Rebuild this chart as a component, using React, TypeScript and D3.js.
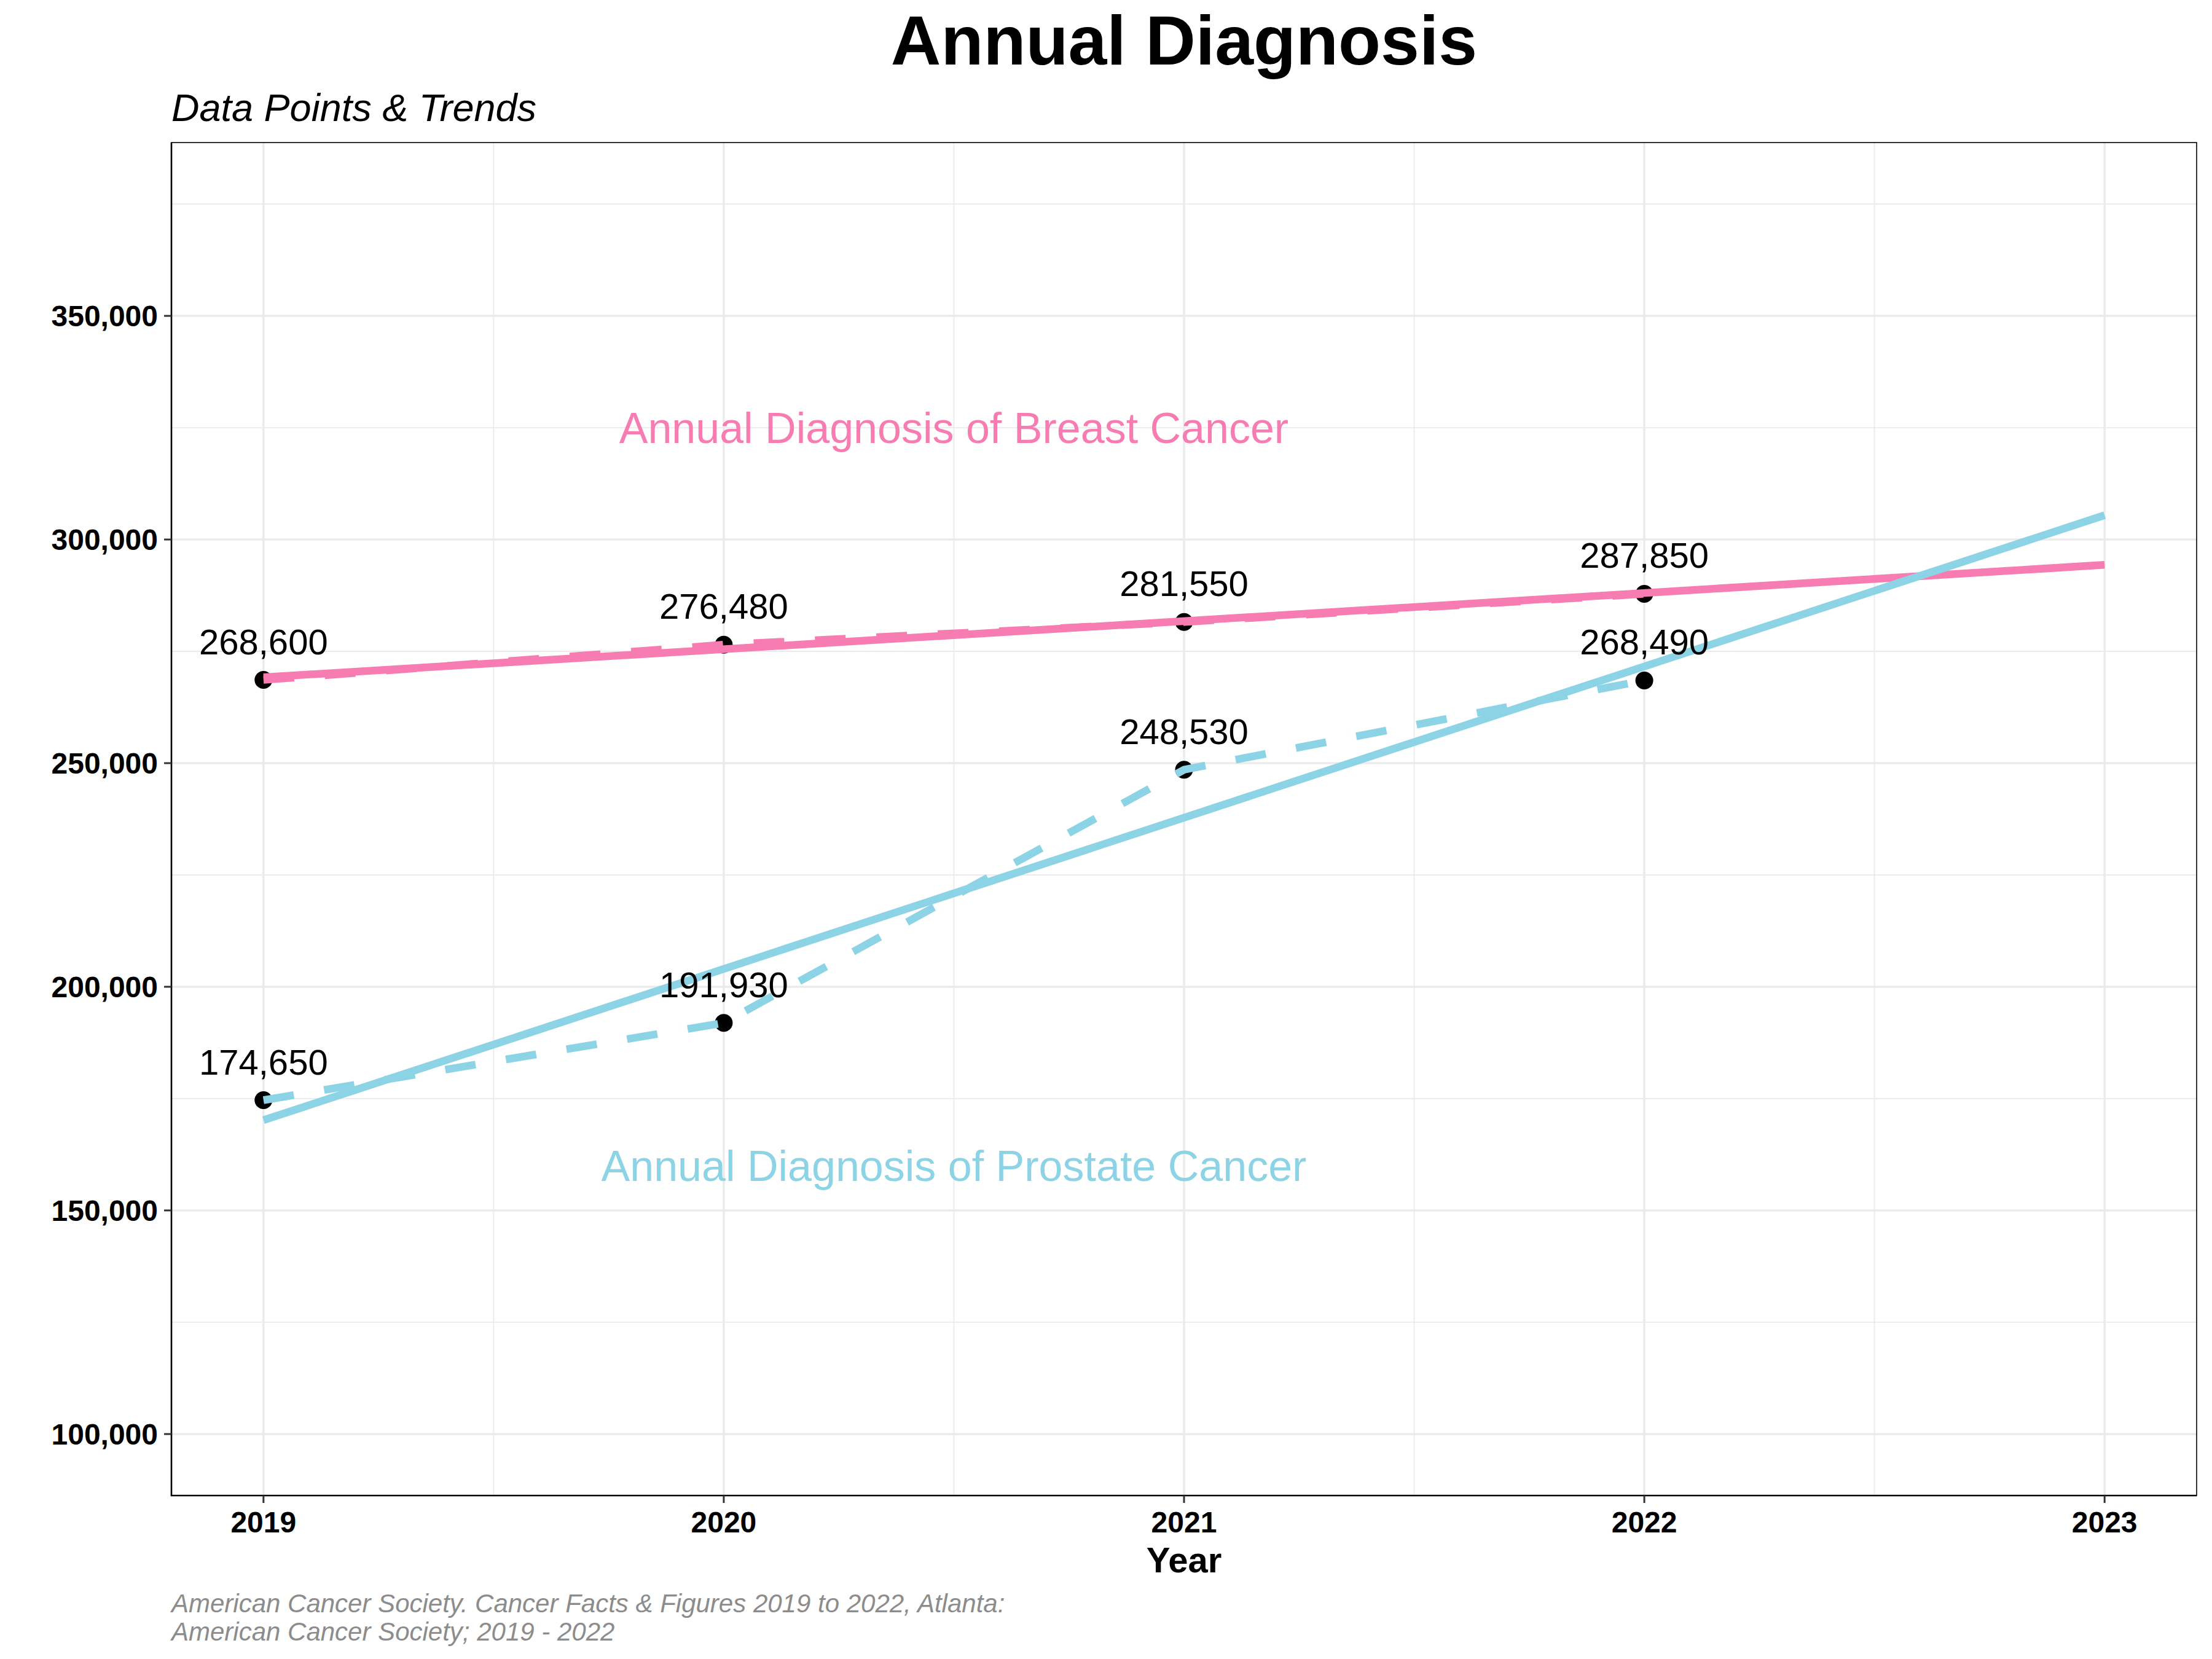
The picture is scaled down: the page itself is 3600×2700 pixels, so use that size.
import React from "react";
import * as d3 from "d3";

const years = [2019, 2020, 2021, 2022];
const breastValues = [268600, 276480, 281550, 287850];
const prostateValues = [174650, 191930, 248530, 268490];
const xTicks = [2019, 2020, 2021, 2022, 2023];
const xMinor = [2019.5, 2020.5, 2021.5, 2022.5];
const yTicks = [100000, 150000, 200000, 250000, 300000, 350000];
const yMinor = [125000, 175000, 225000, 275000, 325000, 375000];
const trendRange = [2019, 2023];
const seriesNames = ["Annual Diagnosis of Breast Cancer", "Annual Diagnosis of Prostate Cancer"];
const annotationX = [2020.5, 2020.5];
const annotationY = [325000, 160000];
const captionLines = [
  "American Cancer Society. Cancer Facts & Figures 2019 to 2022, Atlanta:",
  "American Cancer Society; 2019 - 2022",
];

const W = 3600;
const H = 2700;
const PL = 279, PR = 3575, PT = 232, PB = 2434;
const PINK = "#F67CB1";
const BLUE = "#8DD3E6";
const FONT = "'Liberation Sans', Arial, Helvetica, sans-serif";

function fit(xs: number[], ys: number[]) {
  const mx = d3.mean(xs) as number;
  const my = d3.mean(ys) as number;
  let sxy = 0, sxx = 0;
  xs.forEach((x, i) => {
    sxy += (x - mx) * (ys[i] - my);
    sxx += (x - mx) * (x - mx);
  });
  const b = sxy / sxx;
  const a = my - b * mx;
  return (x: number) => a + b * x;
}

export default function App() {
  const x = d3.scaleLinear().domain([2018.8, 2023.2]).range([PL, PR]);
  const y = d3.scaleLinear().domain([86250, 388750]).range([PB, PT]);
  const fmt = d3.format(",");
  const line = d3
    .line<[number, number]>()
    .x((d) => x(d[0]))
    .y((d) => y(d[1]));

  const series = [
    { name: seriesNames[0], values: breastValues, color: PINK, ax: annotationX[0], ay: annotationY[0] },
    { name: seriesNames[1], values: prostateValues, color: BLUE, ax: annotationX[1], ay: annotationY[1] },
  ];
  const panelCx = (PL + PR) / 2;
  const lw = 12.5;

  return (
    <svg
      width={W}
      height={H}
      style={{ position: "absolute", left: 0, top: 0, background: "#fff" }}
      fontFamily={FONT}
    >
      <rect x={0} y={0} width={W} height={H} fill="#fff" />
      {/* grid */}
      {yMinor.map((v) => (
        <line key={"ym" + v} x1={PL} x2={PR} y1={y(v)} y2={y(v)} stroke="#EBEBEB" strokeWidth={1.8} />
      ))}
      {xMinor.map((v) => (
        <line key={"xm" + v} x1={x(v)} x2={x(v)} y1={PT} y2={PB} stroke="#EBEBEB" strokeWidth={1.8} />
      ))}
      {yTicks.map((v) => (
        <line key={"yM" + v} x1={PL} x2={PR} y1={y(v)} y2={y(v)} stroke="#EBEBEB" strokeWidth={3.5} />
      ))}
      {xTicks.map((v) => (
        <line key={"xM" + v} x1={x(v)} x2={x(v)} y1={PT} y2={PB} stroke="#EBEBEB" strokeWidth={3.5} />
      ))}
      {/* panel border */}
      <rect x={PL} y={PT} width={PR - PL} height={PB - PT} fill="none" stroke="#000" strokeWidth={1.6} />
      <line x1={PL} x2={PL} y1={PT} y2={PB + 1} stroke="#000" strokeWidth={2.6} />
      <line x1={PL - 1} x2={PR} y1={PB} y2={PB} stroke="#000" strokeWidth={2.6} />

      {/* ticks */}
      {yTicks.map((v) => (
        <g key={"yt" + v}>
          <line x1={PL - 12} x2={PL} y1={y(v)} y2={y(v)} stroke="#333" strokeWidth={3} />
          <text x={257} y={y(v) + 17} textAnchor="end" fontWeight="bold" fontSize={48} fill="#000">
            {fmt(v)}
          </text>
        </g>
      ))}
      {xTicks.map((v) => (
        <g key={"xt" + v}>
          <line x1={x(v)} x2={x(v)} y1={PB} y2={PB + 12} stroke="#333" strokeWidth={3} />
          <text x={x(v)} y={2494} textAnchor="middle" fontWeight="bold" fontSize={48} fill="#000">
            {v}
          </text>
        </g>
      ))}

      {/* points */}
      {series.map((s) =>
        s.values.map((v, i) => (
          <circle key={s.name + "p" + i} cx={x(years[i])} cy={y(v)} r={14.5} fill="#000" />
        ))
      )}

      {/* dashed data lines */}
      {series.map((s) => (
        <path
          key={s.name + "dash"}
          d={line(years.map((yr, i) => [yr, s.values[i]] as [number, number])) || ""}
          fill="none"
          stroke={s.color}
          strokeWidth={lw}
          strokeDasharray="50,50"
        />
      ))}

      {/* trend lines */}
      {series.map((s) => {
        const f = fit(years, s.values);
        return (
          <path
            key={s.name + "trend"}
            d={line(trendRange.map((t) => [t, f(t)] as [number, number])) || ""}
            fill="none"
            stroke={s.color}
            strokeWidth={lw}
          />
        );
      })}

      {/* data labels */}
      {series.map((s) =>
        s.values.map((v, i) => (
          <text
            key={s.name + "l" + i}
            x={x(years[i])}
            y={y(v) - 42}
            textAnchor="middle"
            fontSize={58}
            fill="#000"
          >
            {fmt(v)}
          </text>
        ))
      )}

      {/* annotations */}
      {series.map((s) => (
        <text
          key={s.name + "ann"}
          x={x(s.ax)}
          y={y(s.ay) + 25}
          textAnchor="middle"
          fontSize={70}
          fill={s.color}
        >
          {s.name}
        </text>
      ))}

      {/* titles */}
      <text x={panelCx} y={105} textAnchor="middle" fontWeight="bold" fontSize={113} fill="#000">
        Annual Diagnosis
      </text>
      <text x={PL} y={197} fontStyle="italic" fontSize={63} fill="#000">
        Data Points &amp; Trends
      </text>
      <text x={panelCx} y={2559} textAnchor="middle" fontWeight="bold" fontSize={58} fill="#000">
        Year
      </text>
      {captionLines.map((c, i) => (
        <text key={"cap" + i} x={PL} y={2624 + i * 46} fontStyle="italic" fontSize={42} fill="#8C8C8C">
          {c}
        </text>
      ))}
    </svg>
  );
}
